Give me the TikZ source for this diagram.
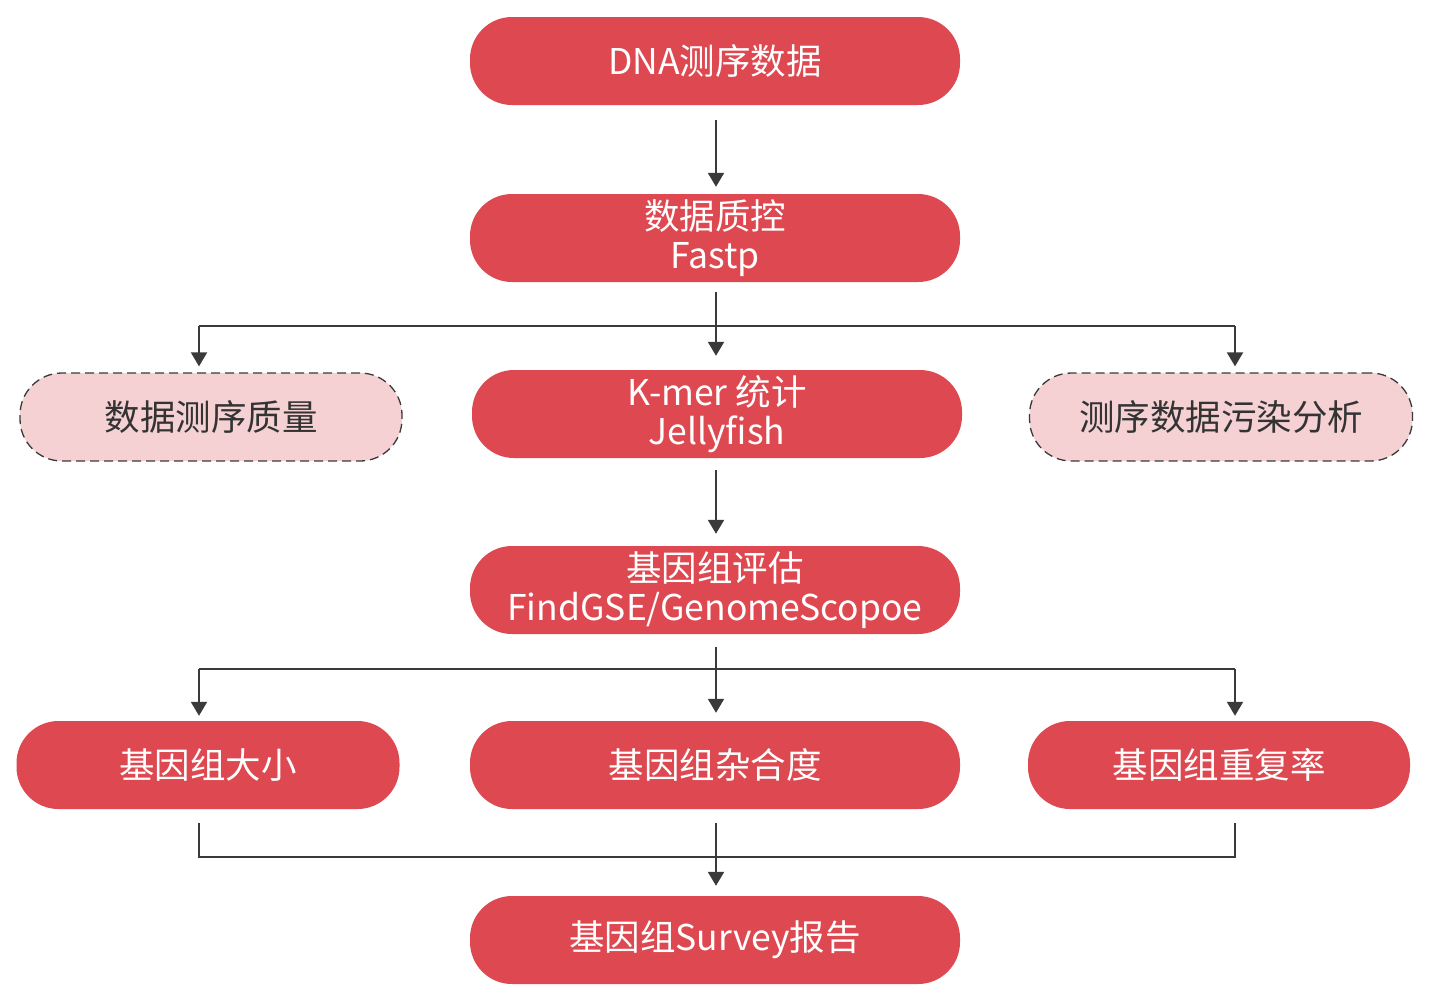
\documentclass[tikz,border=0pt]{standalone}
\usepackage{fontspec}
\setmainfont{Noto Sans CJK SC}
\usetikzlibrary{arrows.meta}
\definecolor{boxred}{HTML}{DE4850}
\definecolor{boxpink}{HTML}{F5D1D4}
\definecolor{linegray}{HTML}{3A3A3A}
\definecolor{textgray}{HTML}{333333}
\begin{document}
\begin{tikzpicture}[x=1pt,y=-1pt,
  redbox/.style={fill=boxred, draw=none, rounded corners=42pt, minimum width=490pt, minimum height=88pt,
    text=white, align=center, font=\fontsize{35.5}{38.5}\selectfont, inner sep=0pt},
  pinkbox/.style={fill=boxpink, draw=linegray, line width=1.3pt, dash pattern=on 9pt off 5pt, rounded corners=42pt,
    minimum width=382pt, minimum height=88pt, text=textgray, align=center, font=\fontsize{35.5}{38.5}\selectfont, inner sep=0pt},
  conn/.style={draw=linegray, line width=2pt},
  arr/.style={conn, -{Triangle[width=16pt,length=14pt]}}]
\useasboundingbox (0,0) rectangle (1445,997);
\fill[white] (0,0) rectangle (1445,997);

\node[redbox] (n1) at (715,61) {DNA测序数据};
\node[redbox] (n2) at (715,238) {数据质控\\Fastp};
\node[pinkbox] (dl) at (211,417) {数据测序质量};
\node[redbox] (km) at (717,414) {K-mer 统计\\Jellyfish};
\node[pinkbox, minimum width=383pt] (dr) at (1221,417) {测序数据污染分析};
\node[redbox] (n4) at (715,590) {基因组评估\\FindGSE/GenomeScopoe};
\node[redbox, minimum width=383pt] (g1) at (208,765) {基因组大小};
\node[redbox] (g2) at (715,765) {基因组杂合度};
\node[redbox, minimum width=382pt] (g3) at (1219,765) {基因组重复率};
\node[redbox] (fin) at (715,940) {基因组Survey报告};

% top arrow
\draw[arr] ([xshift=1pt,yshift=-15pt]n1.south) -- ([xshift=1pt,yshift=7pt]n2.north);

% first branch
\coordinate (j1) at (716,326);
\coordinate (j1l) at (199,326);
\coordinate (j1r) at (1235,326);
\draw[conn] ([xshift=1pt,yshift=-10pt]n2.south) -- (j1);
\draw[conn] (j1l) -- (j1r);
\draw[arr] (j1) -- ([yshift=14pt]j1 |- km.north);
\draw[arr] (j1l) -- ([yshift=6pt]j1l |- dl.north);
\draw[arr] (j1r) -- ([yshift=6pt]j1r |- dr.north);

% kmer to assessment
\draw[arr] ([xshift=-1pt,yshift=-12pt]km.south) -- ([xshift=1pt,yshift=12pt]n4.north);

% second branch
\coordinate (j2) at (716,669);
\coordinate (j2l) at (199,669);
\coordinate (j2r) at (1235,669);
\draw[conn] ([xshift=1pt,yshift=-13pt]n4.south) -- (j2);
\draw[conn] (j2l) -- (j2r);
\draw[arr] (j2) -- ([yshift=8pt]j2 |- g2.north);
\draw[arr] (j2l) -- ([yshift=5pt]j2l |- g1.north);
\draw[arr] (j2r) -- ([yshift=5pt]j2r |- g3.north);

% merge
\coordinate (j3) at (716,857);
\coordinate (j3l) at (199,857);
\coordinate (j3r) at (1235,857);
\draw[conn] ([yshift=-14pt]j3l |- g1.south) -- (j3l) -- (j3r) -- ([yshift=-14pt]j3r |- g3.south);
\draw[conn] ([yshift=-14pt]j3 |- g2.south) -- (j3);
\draw[arr] (j3) -- ([yshift=10pt]j3 |- fin.north);
\end{tikzpicture}
\end{document}
